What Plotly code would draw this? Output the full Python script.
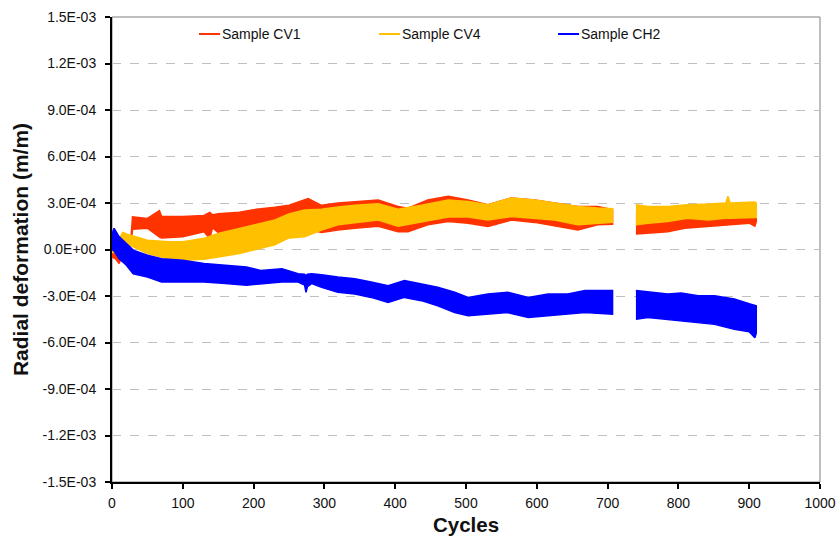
import plotly.graph_objects as go

SCALE = 1e-4  # values below are in units of 1E-04 m/m

# ---- Sample CV1 (red) envelopes ----
cv1_cycles_a = [0, 5, 10, 18, 27, 29, 50, 67, 70, 100, 130, 138, 142, 150, 180, 200, 230, 250, 277, 296,
                319, 343, 376, 404, 418, 446, 475, 503, 531, 564, 597, 625, 658, 686, 707]
cv1_upper_a = [0.3, 0.2, 0.0, 0.8, 0.9, 2.1, 2.0, 2.5, 2.15, 2.13, 2.2, 2.4, 2.24, 2.3, 2.4, 2.57, 2.72, 2.85, 3.28, 2.85,
               3.0, 3.07, 3.2, 2.78, 2.67, 3.2, 3.43, 3.2, 2.89, 3.33, 3.2, 3.0, 2.78, 2.78, 2.57]
cv1_lower_a = [-0.5, -0.6, -0.9, 0.0, 0.4, 1.3, 1.37, 0.8, 0.75, 0.83, 1.15, 0.7, 1.4, 1.1, 1.3, 1.5, 1.7, 1.6, 1.3, 1.1,
               1.26, 1.37, 1.5, 1.15, 1.15, 1.6, 1.8, 1.7, 1.48, 1.9, 1.75, 1.55, 1.26, 1.59, 1.63]
cv1_cycles_b = [740, 757, 785, 809, 832, 870, 900, 908, 910]
cv1_upper_b = [2.3, 2.2, 2.3, 2.5, 2.5, 2.6, 2.6, 2.6, 2.6]
cv1_lower_b = [1.0, 1.04, 1.15, 1.37, 1.48, 1.59, 1.7, 1.5, 1.8]

# ---- Sample CV4 (yellow) envelopes ----
cv4_cycles_a = [0, 3, 8, 15, 25, 50, 80, 100, 130, 150, 180, 200, 230, 250, 272, 296, 319, 343, 376, 404,
                437, 475, 503, 531, 564, 597, 625, 658, 686, 707]
cv4_upper_a = [0.2, 0.3, 0.5, 1.1, 0.93, 0.6, 0.5, 0.5, 0.72, 1.04, 1.37, 1.59, 1.9, 2.3, 2.55, 2.6, 2.75, 2.85, 2.95, 2.6,
               2.85, 3.2, 3.1, 2.89, 3.33, 3.2, 3.0, 2.78, 2.67, 2.63]
cv4_lower_a = [-0.2, -0.2, -0.1, 0.3, 0.28, -0.26, -0.59, -0.7, -0.63, -0.48, -0.26, -0.04, 0.3, 0.75, 0.83, 1.25, 1.59, 1.7, 1.9, 1.5,
               1.8, 2.1, 2.1, 1.91, 2.13, 2.02, 1.91, 1.59, 1.7, 1.76]
cv4_cycles_b = [740, 757, 785, 813, 842, 867, 870, 873, 908, 910]
cv4_upper_b = [2.89, 2.78, 2.78, 2.89, 2.93, 3.0, 3.43, 3.0, 3.07, 3.0]
cv4_lower_b = [1.59, 1.7, 1.8, 2.02, 1.91, 2.02, 2.02, 2.02, 2.07, 2.07]

# ---- Sample CH2 (blue) envelopes ----
ch2_cycles_a = [0, 3, 10, 20, 30, 50, 70, 100, 130, 160, 190, 210, 240, 263, 272, 274, 276, 282, 296, 319,
                343, 366, 390, 413, 437, 460, 484, 503, 531, 559, 588, 616, 644, 668, 707]
ch2_upper_a = [1.0, 1.37, 0.83, 0.39, -0.04, -0.37, -0.59, -0.7, -0.91, -1.02, -1.13, -1.35, -1.24, -1.57, -1.6, -1.7, -1.6, -1.57, -1.63, -1.78,
               -1.89, -2.1, -2.33, -2.0, -2.22, -2.43, -2.76, -3.09, -2.87, -2.76, -3.09, -2.87, -2.87, -2.65, -2.65]
ch2_lower_a = [0.0, -0.1, -0.59, -1.0, -1.57, -1.78, -2.1, -2.1, -2.1, -2.2, -2.3, -2.2, -2.1, -2.1, -2.3, -2.76, -2.4, -2.2, -2.43, -2.76,
               -2.87, -3.09, -3.41, -3.09, -3.3, -3.63, -4.07, -4.28, -4.17, -4.07, -4.39, -4.28, -4.17, -4.07, -4.17]
ch2_cycles_b = [740, 757, 785, 804, 828, 851, 879, 900, 908, 910]
ch2_upper_b = [-2.65, -2.72, -2.87, -2.8, -2.98, -2.98, -3.2, -3.5, -3.63, -3.63]
ch2_lower_b = [-4.5, -4.39, -4.5, -4.6, -4.72, -4.83, -5.15, -5.3, -5.7, -5.4]

# ---- Axis ticks ----
y_tick_values = [-15, -12, -9, -6, -3, 0, 3, 6, 9, 12, 15]
y_tick_labels = ["-1.5E-03", "-1.2E-03", "-9.0E-04", "-6.0E-04", "-3.0E-04", "0.0E+00",
                 "3.0E-04", "6.0E-04", "9.0E-04", "1.2E-03", "1.5E-03"]
x_tick_values = [0, 100, 200, 300, 400, 500, 600, 700, 800, 900, 1000]

series = [
    ("Sample CV1", "#FF3300", [(cv1_cycles_a, cv1_upper_a, cv1_lower_a), (cv1_cycles_b, cv1_upper_b, cv1_lower_b)]),
    ("Sample CV4", "#FFC000", [(cv4_cycles_a, cv4_upper_a, cv4_lower_a), (cv4_cycles_b, cv4_upper_b, cv4_lower_b)]),
    ("Sample CH2", "#0000FF", [(ch2_cycles_a, ch2_upper_a, ch2_lower_a), (ch2_cycles_b, ch2_upper_b, ch2_lower_b)]),
]

FONT = "Liberation Sans, Arial, sans-serif"
fig = go.Figure()
for name, color, segs in series:
    for cyc, up, lo in segs:
        xs = list(cyc) + list(cyc)[::-1]
        ys = [v * SCALE for v in up] + [v * SCALE for v in lo][::-1]
        fig.add_trace(go.Scatter(x=xs, y=ys, mode="lines", fill="toself", fillcolor=color,
                                 line=dict(color=color, width=1.5), name=name, showlegend=False,
                                 hoverinfo="skip"))

# manual legend (short line keys like the original)
legend_keys = [("Sample CV1", "#FF3300", 0.1229), ("Sample CV4", "#FFC000", 0.3771), ("Sample CH2", "#0000FF", 0.630)]
shapes = [dict(type="rect", xref="paper", yref="paper", x0=0, x1=1, y0=0, y1=1,
               line=dict(color="#7F7F7F", width=1), layer="below")]
annotations = []
for name, color, x0 in legend_keys:
    shapes.append(dict(type="line", xref="paper", yref="paper", x0=x0, x1=x0 + 0.0297, y0=0.9634, y1=0.9634,
                       line=dict(color=color, width=2)))
    annotations.append(dict(xref="paper", yref="paper", x=x0 + 0.029, y=0.9634, text=name, showarrow=False,
                            xanchor="left", yanchor="middle", font=dict(family=FONT, size=14, color="#111")))

fig.update_layout(
    width=838, height=536,
    margin=dict(l=112, r=18, t=17, b=54),
    paper_bgcolor="white", plot_bgcolor="white",
    showlegend=False,
    shapes=shapes, annotations=annotations,
    font=dict(family=FONT, size=14, color="#111"),
)
fig.update_xaxes(range=[0, 1000], tickvals=x_tick_values, showgrid=False, zeroline=False, automargin=False,
                 showline=True, linecolor="black", linewidth=2,
                 ticks="outside", ticklen=5, tickwidth=2, tickcolor="black", ticklabelstandoff=2,
                 tickfont=dict(family=FONT, size=14, color="#111"),
                 title=dict(text="<b>Cycles</b>", font=dict(family=FONT, size=20.5, color="#111"), standoff=8))
fig.update_yaxes(range=[-15 * SCALE, 15 * SCALE], tickvals=[v * SCALE for v in y_tick_values], ticktext=y_tick_labels,
                 showgrid=True, gridcolor="#BFBFBF", gridwidth=1, griddash="dash", zeroline=False, automargin=False,
                 showline=True, linecolor="black", linewidth=2,
                 ticks="outside", ticklen=5, tickwidth=2, tickcolor="black", ticklabelstandoff=6,
                 tickfont=dict(family=FONT, size=14, color="#111"),
                 title=dict(text="<b>Radial deformation (m/m)</b>", font=dict(family=FONT, size=21, color="#111"), standoff=8))

fig.write_html("out.html", config={"displayModeBar": False},
               post_script="document.body.style.margin='0px';")
